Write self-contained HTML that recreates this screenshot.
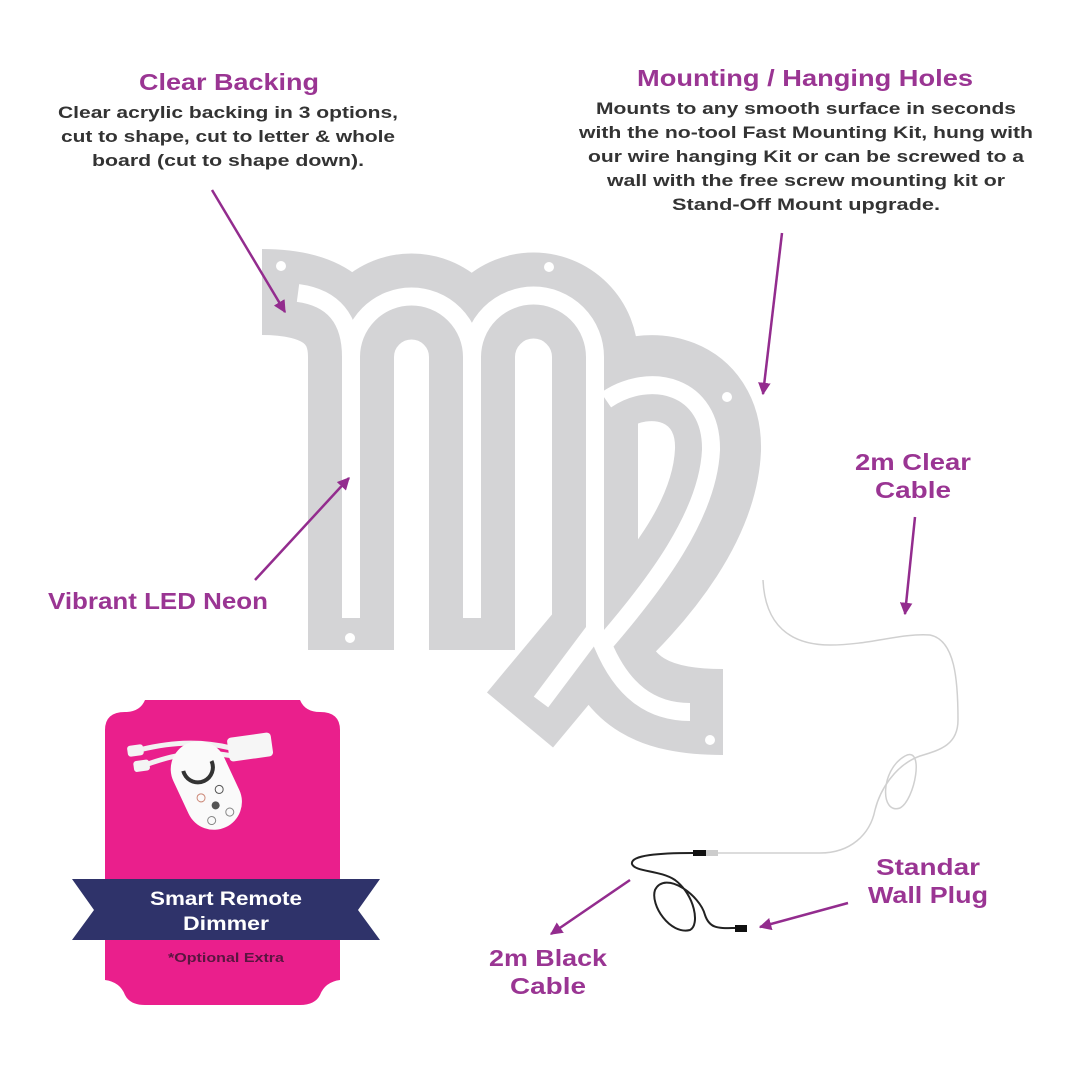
<!DOCTYPE html>
<html><head><meta charset="utf-8"><style>
html,body{margin:0;padding:0;background:#fff}
svg{display:block}
text{font-family:"Liberation Sans",sans-serif;font-weight:bold}
.t{fill:#9a3593;font-size:23px}
.b{fill:#333;font-size:17px}
</style></head><body>
<svg width="1080" height="1080" viewBox="0 0 1080 1080">
<defs>
<marker id="ah" viewBox="0 0 10 10" refX="9" refY="5" markerWidth="5" markerHeight="5" orient="auto"><path d="M0,0 L10,5 L0,10 z" fill="#932c8e"/></marker>
</defs>
<!-- Virgo backing -->
<g fill="none" stroke="#d4d4d6" stroke-width="86" stroke-linecap="butt" stroke-linejoin="round">
<path d="M262,292 Q351,292 351,357 L351,650"/>
<path d="M351,357 A60.5,60.5 0 0 1 472,357 L472,650"/>
<path d="M472,357 A61.5,61.5 0 0 1 595,357 L595,630 L520,720"/>
<path d="M600,395 C650,360 720,380 718,450 C715,520 660,590 603,643 C620,690 650,712 723,712"/>
</g>
<g fill="none" stroke="#fff" stroke-width="18" stroke-linecap="butt">
<path d="M298,293 Q351,300 351,357 L351,618"/>
<path d="M351,357 A60.5,60.5 0 0 1 472,357 L472,618"/>
<path d="M472,357 A61.5,61.5 0 0 1 595,357 L595,630 L541,702"/>
<path d="M606,400 C650,370 712,385 711,450 C708,515 655,585 603,645 C622,690 650,712 690,712"/>
</g>
<g fill="#fff"><circle cx="281" cy="266" r="5"/><circle cx="549" cy="267" r="5"/><circle cx="727" cy="397" r="5"/><circle cx="350" cy="638" r="5"/><circle cx="710" cy="740" r="5"/></g>
<!-- cables -->
<path d="M763,580 C765,625 790,645 830,645 C870,645 900,633 930,635 C955,640 958,680 958,720 C958,745 940,750 920,756 C895,765 880,790 875,810 C870,835 850,853 820,853 L718,853" fill="none" stroke="#d0d0d0" stroke-width="1.5"/>
<path d="M905,756 C925,745 915,800 900,808 C880,815 880,770 905,756 Z" fill="none" stroke="#d0d0d0" stroke-width="1.5"/>
<rect x="706" y="850" width="12" height="6" fill="#ccc"/>
<rect x="693" y="850" width="13" height="6" fill="#111"/>
<path d="M693,853 C660,853 630,855 632,864 C635,872 660,870 675,880 C695,895 700,925 690,930 C670,935 650,905 655,890 C665,870 700,895 705,915 C710,930 720,928 738,928" fill="none" stroke="#222" stroke-width="2"/>
<rect x="735" y="925" width="12" height="7" fill="#111"/>
<!-- arrows -->
<g stroke="#932c8e" stroke-width="2.5" fill="none" marker-end="url(#ah)">
<line x1="212" y1="190" x2="285" y2="312"/>
<line x1="782" y1="233" x2="763" y2="394"/>
<line x1="255" y1="580" x2="349" y2="478"/>
<line x1="915" y1="517" x2="905" y2="614"/>
<line x1="848" y1="903" x2="760" y2="927"/>
<line x1="630" y1="880" x2="551" y2="934"/>
</g>
<!-- texts -->
<text class="t" x="229" y="90" text-anchor="middle" textLength="180" lengthAdjust="spacingAndGlyphs">Clear Backing</text>
<text class="b" x="228" y="118" text-anchor="middle" textLength="340" lengthAdjust="spacingAndGlyphs">Clear acrylic backing in 3 options,</text>
<text class="b" x="228" y="142" text-anchor="middle" textLength="334" lengthAdjust="spacingAndGlyphs">cut to shape, cut to letter &amp; whole</text>
<text class="b" x="228" y="166" text-anchor="middle" textLength="272" lengthAdjust="spacingAndGlyphs">board (cut to shape down).</text>
<text class="t" x="805" y="86" text-anchor="middle" textLength="336" lengthAdjust="spacingAndGlyphs">Mounting / Hanging Holes</text>
<text class="b" x="806" y="114" text-anchor="middle" textLength="420" lengthAdjust="spacingAndGlyphs">Mounts to any smooth surface in seconds</text>
<text class="b" x="806" y="138" text-anchor="middle" textLength="454" lengthAdjust="spacingAndGlyphs">with the no-tool Fast Mounting Kit, hung with</text>
<text class="b" x="806" y="162" text-anchor="middle" textLength="436" lengthAdjust="spacingAndGlyphs">our wire hanging Kit or can be screwed to a</text>
<text class="b" x="806" y="186" text-anchor="middle" textLength="398" lengthAdjust="spacingAndGlyphs">wall with the free screw mounting kit or</text>
<text class="b" x="806" y="210" text-anchor="middle" textLength="268" lengthAdjust="spacingAndGlyphs">Stand-Off Mount upgrade.</text>
<text class="t" x="913" y="470" text-anchor="middle" textLength="116" lengthAdjust="spacingAndGlyphs">2m Clear</text>
<text class="t" x="913" y="498" text-anchor="middle" textLength="76" lengthAdjust="spacingAndGlyphs">Cable</text>
<text class="t" x="48" y="609" textLength="220" lengthAdjust="spacingAndGlyphs">Vibrant LED Neon</text>
<text class="t" x="928" y="875" text-anchor="middle" textLength="104" lengthAdjust="spacingAndGlyphs">Standar</text>
<text class="t" x="928" y="903" text-anchor="middle" textLength="120" lengthAdjust="spacingAndGlyphs">Wall Plug</text>
<text class="t" x="548" y="966" text-anchor="middle" textLength="118" lengthAdjust="spacingAndGlyphs">2m Black</text>
<text class="t" x="548" y="994" text-anchor="middle" textLength="76" lengthAdjust="spacingAndGlyphs">Cable</text>
<!-- badge -->
<path d="M125,712 Q140,712 145,700 L300,700 Q305,712 320,712 Q340,712 340,730 L340,980 Q325,982 320,995 Q315,1005 300,1005 L145,1005 Q130,1005 125,995 Q120,982 105,980 L105,730 Q105,712 125,712 Z" fill="#ea1f8c"/>
<g transform="rotate(-8 200 750)">
<path d="M135,742 C170,738 200,740 230,752" stroke="#f2f2f2" stroke-width="5" fill="none"/>
<path d="M140,758 C175,750 200,750 230,760" stroke="#f2f2f2" stroke-width="5" fill="none"/>
<rect x="128" y="736" width="16" height="11" rx="3" fill="#f4f4f4"/>
<rect x="132" y="752" width="16" height="11" rx="3" fill="#f4f4f4"/>
<rect x="228" y="742" width="44" height="24" rx="4" fill="#f6f6f6"/>
</g>
<g transform="rotate(-25 205 785)">
<rect x="178" y="740" width="56" height="92" rx="28" fill="#fafafa"/>
<circle cx="206" cy="766" r="15" fill="none" stroke="#333" stroke-width="4" stroke-dasharray="50 50"/>
<circle cx="196" cy="795" r="4" fill="none" stroke="#c87"/><circle cx="216" cy="795" r="4" fill="none" stroke="#555"/>
<circle cx="206" cy="808" r="4" fill="#555"/><circle cx="196" cy="820" r="4" fill="none" stroke="#888"/><circle cx="216" cy="820" r="4" fill="none" stroke="#888"/>
</g>
<path d="M72,879 L380,879 L358,910 L380,940 L72,940 L94,910 Z" fill="#2f336a"/>
<rect x="105" y="879" width="235" height="61" fill="#2f336a"/>
<text x="226" y="905" text-anchor="middle" fill="#fff" style="font-size:19px" textLength="152" lengthAdjust="spacingAndGlyphs">Smart Remote</text>
<text x="226" y="930" text-anchor="middle" fill="#fff" style="font-size:19px" textLength="86" lengthAdjust="spacingAndGlyphs">Dimmer</text>
<text x="226" y="962" text-anchor="middle" fill="#5a1540" style="font-size:13px" textLength="116" lengthAdjust="spacingAndGlyphs">*Optional Extra</text>
</svg>
</body></html>
